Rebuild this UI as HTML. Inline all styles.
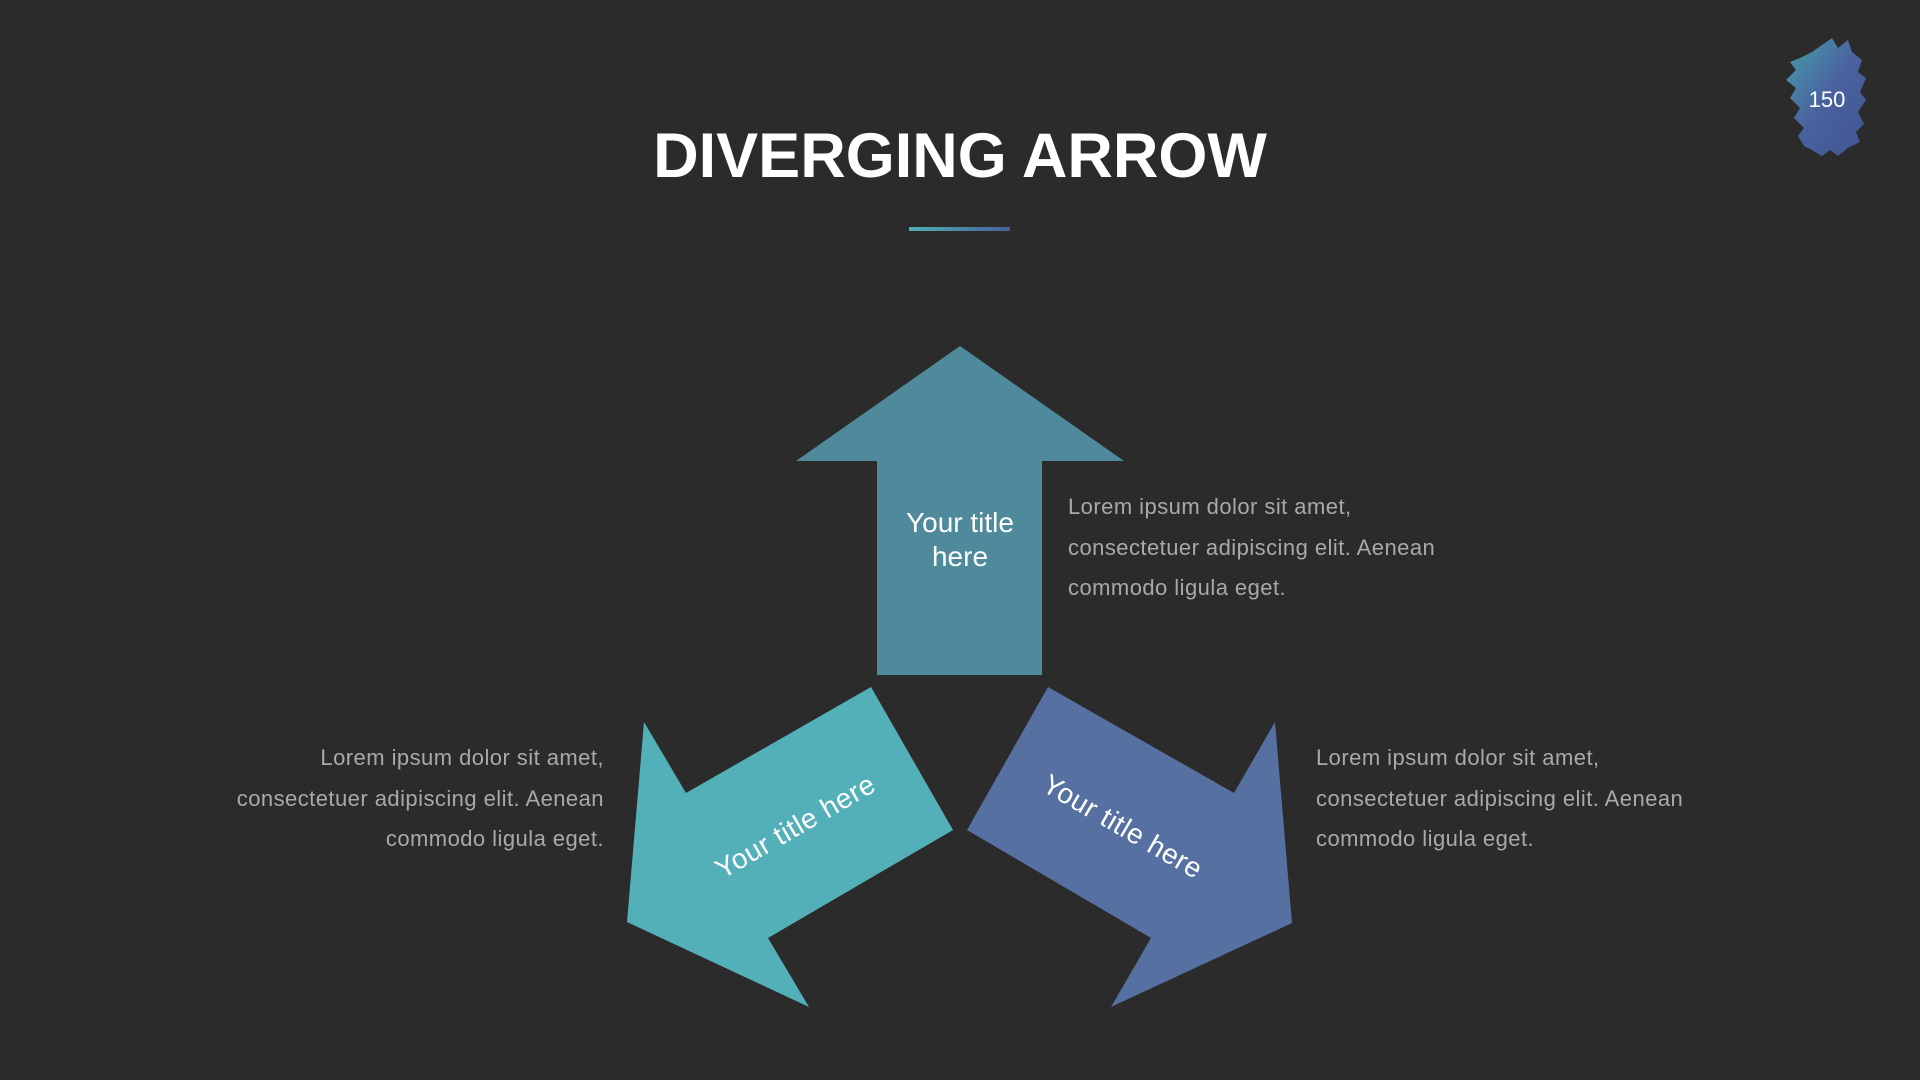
<!DOCTYPE html>
<html><head><meta charset="utf-8"><style>
body{margin:0;width:1920px;height:1080px;background:#2b2b2b;overflow:hidden;position:relative;font-family:"Liberation Sans",sans-serif}
.t{position:absolute;color:#a9a9a9;font-size:22px;line-height:40.5px;width:440px;letter-spacing:0.45px}
</style></head><body>
<svg width="1920" height="1080" style="position:absolute;left:0;top:0">
<defs>
<linearGradient id="g" x1="0" y1="0" x2="1" y2="0"><stop offset="0" stop-color="#4fb0b5"/><stop offset="1" stop-color="#4a5e9a"/></linearGradient>
<linearGradient id="b" x1="0" y1="0" x2="1" y2="1"><stop offset="0" stop-color="#45a0aa"/><stop offset="0.5" stop-color="#4a62a0"/><stop offset="1" stop-color="#3f5590"/></linearGradient>
</defs>
<rect x="909" y="227" width="101" height="4" fill="url(#g)"/>
<polygon points="960,346 1124,461 1042,461 1042,675 877,675 877,461 796,461" fill="#4f8a9c"/>
<polygon points="871,687 953,830 768,938 809,1007 627,922 644,722 686,793" fill="#53b0b9"/>
<polygon points="1048,687 1234,793 1275,722 1292,923 1111,1007 1151,938 967,830" fill="#5670a2"/>
<polygon points="1800,58 1812,52 1822,45 1832,38 1838,48 1848,40 1852,52 1862,60 1858,72 1866,78 1860,92 1866,100 1858,112 1864,124 1856,132 1860,142 1848,148 1838,156 1830,150 1822,156 1812,150 1804,146 1798,136 1804,128 1794,118 1800,108 1790,98 1796,88 1786,80 1796,70 1790,62" fill="url(#b)"/>
<text x="1827" y="107" fill="#fff" font-size="22" text-anchor="middle" font-family="Liberation Sans, sans-serif">150</text>
<text x="960" y="177" fill="#fff" font-size="63" font-weight="bold" text-anchor="middle" font-family="Liberation Sans, sans-serif">DIVERGING ARROW</text>
<text x="960" y="532" fill="#fff" font-size="28" text-anchor="middle" font-family="Liberation Sans, sans-serif">Your title</text>
<text x="960" y="566" fill="#fff" font-size="28" text-anchor="middle" font-family="Liberation Sans, sans-serif">here</text>
<text transform="translate(795,826) rotate(-30)" y="10" fill="#fff" font-size="28" text-anchor="middle" font-family="Liberation Sans, sans-serif" letter-spacing="0.5">Your title here</text>
<text transform="translate(1123,826) rotate(30)" y="10" fill="#fff" font-size="28" text-anchor="middle" font-family="Liberation Sans, sans-serif" letter-spacing="0.5">Your title here</text>
</svg>
<div class="t" style="left:1068px;top:487px">Lorem ipsum dolor sit amet,<br>consectetuer adipiscing elit. Aenean<br>commodo ligula eget.</div>
<div class="t" style="left:164px;top:738px;text-align:right">Lorem ipsum dolor sit amet,<br>consectetuer adipiscing elit. Aenean<br>commodo ligula eget.</div>
<div class="t" style="left:1316px;top:738px">Lorem ipsum dolor sit amet,<br>consectetuer adipiscing elit. Aenean<br>commodo ligula eget.</div>
</body></html>
